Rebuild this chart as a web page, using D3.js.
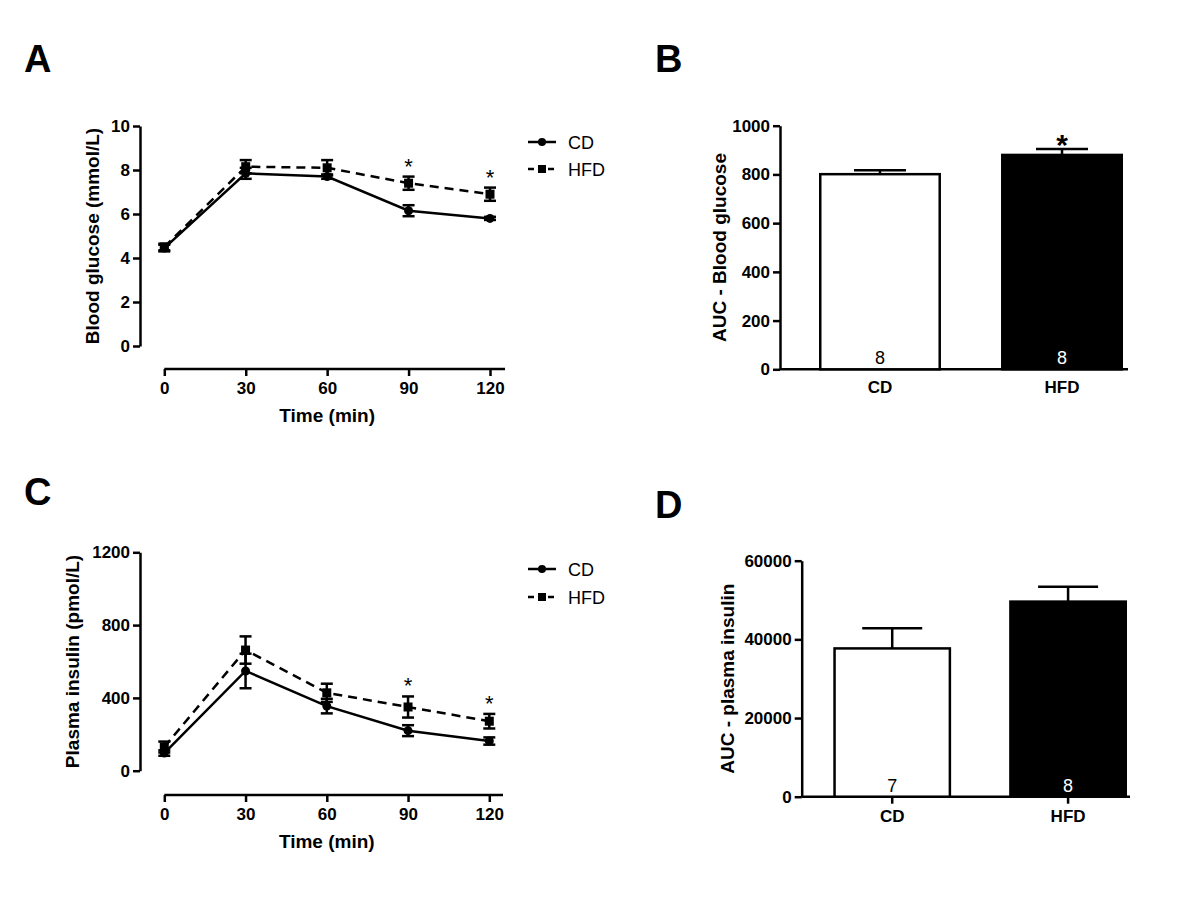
<!DOCTYPE html>
<html>
<head>
<meta charset="utf-8">
<script src="https://cdn.jsdelivr.net/npm/d3@7"></script>
<style>
  html, body { margin: 0; padding: 0; background: #fff; }
  svg { display: block; }
  text { font-family: "Liberation Sans", Arial, Helvetica, sans-serif; }
</style>
</head>
<body>
<svg id="chart" width="1200" height="898"></svg>
<script>
// ---------------- DATA ----------------
const timePoints = [0, 30, 60, 90, 120];
const timeTicks = [0, 30, 60, 90, 120];

const glucoseCD = [4.45, 7.85, 7.7, 6.15, 5.8];
const glucoseCDErr = [0.15, 0.25, 0.1, 0.25, 0.07];
const glucoseHFD = [4.5, 8.15, 8.1, 7.4, 6.9];
const glucoseHFDErr = [0.15, 0.3, 0.35, 0.3, 0.3];
const glucoseSig = [false, false, false, true, true];
const glucoseTicks = [0, 2, 4, 6, 8, 10];

const insulinCD = [97, 548, 355, 220, 163];
const insulinCDErr = [15, 95, 40, 30, 20];
const insulinHFD = [130, 663, 428, 350, 272];
const insulinHFDErr = [30, 75, 50, 58, 40];
const insulinSig = [false, false, false, true, true];
const insulinTicks = [0, 400, 800, 1200];

const groups = ["CD", "HFD"];
const aucGlucose = [801, 880];
const aucGlucoseErr = [16, 24];
const aucGlucoseN = ["8", "8"];
const aucGlucoseSig = [false, true];
const aucGlucoseTicks = [0, 200, 400, 600, 800, 1000];

const aucInsulin = [37700, 49600];
const aucInsulinErr = [5100, 3750];
const aucInsulinN = ["7", "8"];
const aucInsulinSig = [false, false];
const aucInsulinTicks = [0, 20000, 40000, 60000];

// ---------------- DRAWING ----------------
const svg = d3.select("#chart");
const FONT = '"Liberation Sans", Arial, Helvetica, sans-serif';
const TICK_FS = 17, TITLE_FS = 19;

function panelLetter(txt, x, y) {
  svg.append("text").attr("x", x).attr("y", y)
    .attr("font-size", 38).attr("font-weight", "bold").text(txt);
}

function styleAxis(a) {
  a.select(".domain").attr("stroke", "#000").attr("stroke-width", 2.5);
  a.selectAll(".tick line").attr("stroke", "#000").attr("stroke-width", 2.5);
  a.selectAll(".tick text").attr("font-family", FONT).attr("font-size", TICK_FS)
    .attr("font-weight", "bold").attr("fill", "#000");
}

function lineChart(cfg) {
  const g = svg.append("g");
  const x = d3.scaleLinear().domain([0, 120]).range([cfg.x0, cfg.x1]);
  const y = d3.scaleLinear().domain(cfg.yDomain).range([cfg.yBottom, cfg.yTop]);

  const yAxis = d3.axisLeft(y).tickValues(cfg.yTicks).tickSize(7).tickPadding(3).tickSizeOuter(0).tickFormat(d3.format("d"));
  const ya = g.append("g").attr("transform", `translate(${cfg.yAxisX},0)`).call(yAxis);
  const xAxis = d3.axisBottom(x).tickValues(timeTicks).tickSize(7).tickPadding(6).tickSizeOuter(0);
  const xa = g.append("g").attr("transform", `translate(0,${cfg.xAxisY})`).call(xAxis);
  xa.select(".domain").attr("d", `M${cfg.x0},0H${cfg.xAxisEnd}`);
  styleAxis(ya); styleAxis(xa);

  g.append("text").attr("x", (cfg.x0 + cfg.x1) / 2).attr("y", cfg.xTitleY)
    .attr("text-anchor", "middle").attr("font-size", TITLE_FS).attr("font-weight", "bold").text("Time (min)");
  g.append("text")
    .attr("transform", `translate(${cfg.yTitleX},${(cfg.yTop + cfg.yBottom) / 2}) rotate(-90)`)
    .attr("text-anchor", "middle").attr("font-size", TITLE_FS).attr("font-weight", "bold").text(cfg.yTitle);

  const series = [
    { vals: cfg.cd, err: cfg.cdErr, dash: null, shape: "circle" },
    { vals: cfg.hfd, err: cfg.hfdErr, dash: "9,6", shape: "square" }
  ];
  const line = d3.line().x((d, i) => x(timePoints[i])).y(d => y(d));
  series.forEach(s => {
    s.vals.forEach((v, i) => {
      const cx = x(timePoints[i]);
      g.append("line").attr("x1", cx).attr("x2", cx)
        .attr("y1", y(v - s.err[i])).attr("y2", y(v + s.err[i]))
        .attr("stroke", "#000").attr("stroke-width", 2.5);
      [v - s.err[i], v + s.err[i]].forEach(e => {
        g.append("line").attr("x1", cx - 6).attr("x2", cx + 6)
          .attr("y1", y(e)).attr("y2", y(e))
          .attr("stroke", "#000").attr("stroke-width", 2.5);
      });
    });
    g.append("path").datum(s.vals).attr("d", line).attr("fill", "none")
      .attr("stroke", "#000").attr("stroke-width", 2.5)
      .attr("stroke-dasharray", s.dash);
    s.vals.forEach((v, i) => {
      const cx = x(timePoints[i]), cy = y(v);
      if (s.shape === "circle") {
        g.append("circle").attr("cx", cx).attr("cy", cy).attr("r", 4.5).attr("fill", "#000");
      } else {
        g.append("rect").attr("x", cx - 4.5).attr("y", cy - 4.5).attr("width", 9).attr("height", 9).attr("fill", "#000");
      }
    });
  });
  cfg.sig.forEach((s, i) => {
    if (!s) return;
    const top = y(cfg.hfd[i] + cfg.hfdErr[i]);
    g.append("text").attr("x", x(timePoints[i])).attr("y", top - 3)
      .attr("text-anchor", "middle").attr("font-size", 22).text("*");
  });

  const lg = [{ label: "CD", dash: null, shape: "circle" }, { label: "HFD", dash: "6,4", shape: "square" }];
  lg.forEach((d, i) => {
    const ly = cfg.legendY + i * cfg.legendGap;
    g.append("line").attr("x1", cfg.legendX).attr("x2", cfg.legendX + 28)
      .attr("y1", ly).attr("y2", ly).attr("stroke", "#000").attr("stroke-width", 2.5)
      .attr("stroke-dasharray", d.dash);
    if (d.shape === "circle") g.append("circle").attr("cx", cfg.legendX + 14).attr("cy", ly).attr("r", 4).attr("fill", "#000");
    else g.append("rect").attr("x", cfg.legendX + 10).attr("y", ly - 4).attr("width", 8).attr("height", 8).attr("fill", "#000");
    g.append("text").attr("x", cfg.legendX + 40).attr("y", ly + 6.5)
      .attr("font-size", 18).text(d.label);
  });
}

function barChart(cfg) {
  const g = svg.append("g");
  const x = d3.scaleBand().domain(groups).range([cfg.barStart, cfg.barEnd]).paddingInner(cfg.padInner).paddingOuter(0);
  const y = d3.scaleLinear().domain(cfg.yDomain).range([cfg.yBottom, cfg.yTop]);

  const yAxis = d3.axisLeft(y).tickValues(cfg.yTicks).tickSize(7).tickPadding(3).tickSizeOuter(0).tickFormat(d3.format("d"));
  const ya = g.append("g").attr("transform", `translate(${cfg.xStart},0)`).call(yAxis);
  const xAxis = d3.axisBottom(x).tickSize(cfg.xTickSize).tickPadding(cfg.xTickSize ? 6 : 12).tickSizeOuter(0);
  const xa = g.append("g").attr("transform", `translate(0,${cfg.yBottom})`).call(xAxis);
  xa.select(".domain").attr("d", `M${cfg.xStart},0H${cfg.xEnd}`);
  styleAxis(ya); styleAxis(xa);

  g.append("text")
    .attr("transform", `translate(${cfg.yTitleX},${(cfg.yTop + cfg.yBottom) / 2}) rotate(-90)`)
    .attr("text-anchor", "middle").attr("font-size", TITLE_FS).attr("font-weight", "bold").text(cfg.yTitle);

  groups.forEach((grp, i) => {
    const bx = x(grp), bw = x.bandwidth(), cx = bx + bw / 2;
    const v = cfg.vals[i], e = cfg.errs[i];
    g.append("line").attr("x1", cx).attr("x2", cx).attr("y1", y(v)).attr("y2", y(v + e))
      .attr("stroke", "#000").attr("stroke-width", 2.5);
    g.append("line").attr("x1", cx - cfg.capHalf).attr("x2", cx + cfg.capHalf)
      .attr("y1", y(v + e)).attr("y2", y(v + e)).attr("stroke", "#000").attr("stroke-width", 2.5);
    g.append("rect").attr("x", bx + 1.25).attr("y", y(v))
      .attr("width", bw - 2.5).attr("height", y(0) - y(v))
      .attr("fill", i === 0 ? "#fff" : "#000").attr("stroke", "#000").attr("stroke-width", 2.5);
    g.append("text").attr("x", cx).attr("y", cfg.yBottom - 5).attr("text-anchor", "middle")
      .attr("font-size", 18).attr("fill", i === 0 ? "#000" : "#fff").text(cfg.ns[i]);
    if (cfg.sig[i]) {
      g.append("text").attr("x", cx).attr("y", y(v + e) + 6).attr("text-anchor", "middle")
        .attr("font-size", 30).attr("font-weight", "bold").text("*");
    }
  });
}

panelLetter("A", 24, 72);
panelLetter("B", 655, 72);
panelLetter("C", 24, 505);
panelLetter("D", 655, 518);

lineChart({
  x0: 164.3, x1: 490, xAxisEnd: 505, xAxisY: 369,
  yDomain: [0, 10], yTop: 126, yBottom: 346, yAxisX: 140, yTicks: glucoseTicks,
  xTitleY: 422, yTitleX: 99, yTitle: "Blood glucose (mmol/L)",
  cd: glucoseCD, cdErr: glucoseCDErr, hfd: glucoseHFD, hfdErr: glucoseHFDErr, sig: glucoseSig,
  legendX: 528, legendY: 142, legendGap: 27
});

lineChart({
  x0: 164.3, x1: 489.3, xAxisEnd: 503, xAxisY: 795,
  yDomain: [0, 1200], yTop: 552.3, yBottom: 770.7, yAxisX: 140, yTicks: insulinTicks,
  xTitleY: 848, yTitleX: 79, yTitle: "Plasma insulin (pmol/L)",
  cd: insulinCD, cdErr: insulinCDErr, hfd: insulinHFD, hfdErr: insulinHFDErr, sig: insulinSig,
  legendX: 528, legendY: 569, legendGap: 28
});

barChart({
  xStart: 780, xEnd: 1128, barStart: 819, barEnd: 1123, padInner: 0.33,
  yDomain: [0, 1000], yTop: 125.7, yBottom: 369.3, yTicks: aucGlucoseTicks,
  yTitleX: 726, yTitle: "AUC - Blood glucose",
  vals: aucGlucose, errs: aucGlucoseErr, ns: aucGlucoseN, sig: aucGlucoseSig,
  capHalf: 26, xTickSize: 0
});

barChart({
  xStart: 801.7, xEnd: 1130, barStart: 833.3, barEnd: 1127, padInner: 0.33,
  yDomain: [0, 60000], yTop: 560.7, yBottom: 796.7, yTicks: aucInsulinTicks,
  yTitleX: 734, yTitle: "AUC - plasma insulin",
  vals: aucInsulin, errs: aucInsulinErr, ns: aucInsulinN, sig: aucInsulinSig,
  capHalf: 30, xTickSize: 7
});
</script>
</body>
</html>
